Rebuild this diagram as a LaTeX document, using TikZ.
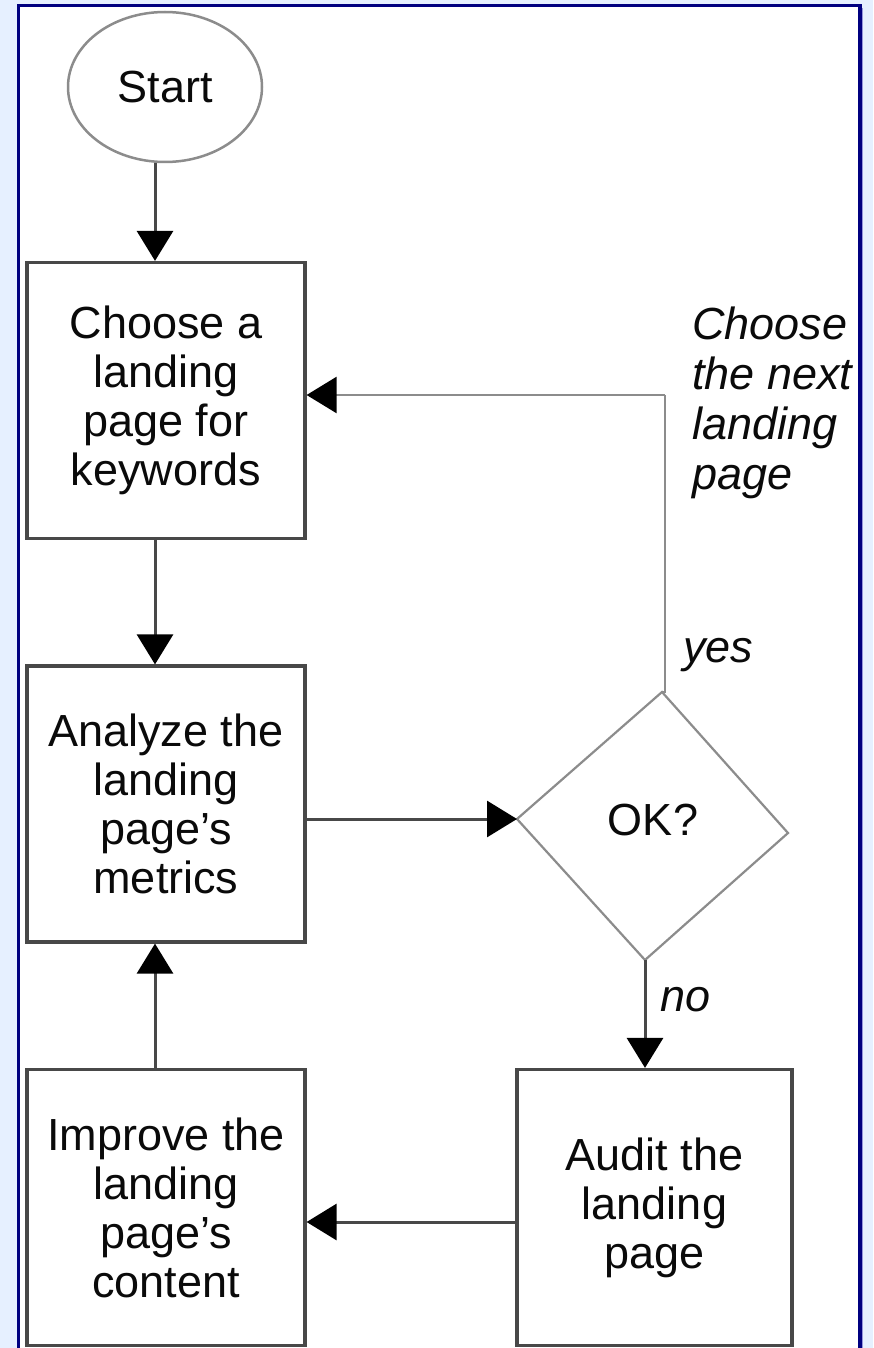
\documentclass[tikz,border=0pt]{standalone}
\usepackage{fontspec}
\setmainfont{Liberation Sans}
\usetikzlibrary{arrows.meta,shapes.geometric,calc}
\definecolor{bgblue}{RGB}{230,240,255}
\definecolor{navy}{RGB}{0,0,128}
\definecolor{boxline}{RGB}{72,72,72}
\definecolor{lightline}{RGB}{140,140,140}
\definecolor{txt}{RGB}{10,10,10}
\tikzset{
  stepbox/.style={draw=boxline, line width=3.2pt, minimum width=278pt, minimum height=276pt, inner sep=0pt, align=center, text=txt, font=\fontsize{45}{49}\selectfont},
  arr/.style={draw=boxline, line width=3pt, -{Triangle[width=36pt,length=30pt,black]}},
  lbl/.style={inner sep=0pt, text=txt, font=\fontsize{45}{50}\selectfont\itshape, align=left}
}
\begin{document}
\begin{tikzpicture}[x=1pt,y=-1pt]
\clip (0,0) rectangle (873,1348);
\useasboundingbox (0,0) rectangle (873,1348);
\fill[bgblue] (0,0) rectangle (873,1348);
\fill[white] (18.5,5.5) rectangle (860,1360);
\draw[navy, line width=3.5pt] (18.5,1360) -- (18.5,5.5) -- (860,5.5) -- (860,1360);
\draw[color={rgb,255:red,150;green,150;blue,220}, line width=1.2pt] (862.5,8) -- (862.5,1360);

% nodes
\node[ellipse, draw=lightline, line width=2.5pt, minimum width=194pt, minimum height=150pt, inner sep=0pt, text=txt, font=\fontsize{45}{49}\selectfont] (start) at (165,87) {Start};
\node[stepbox] (b1) at (166,400.5) {Choose a\\landing\\page for\\keywords};
\node[stepbox] (b2) at (166,804) {Analyze the\\landing\\page's\\metrics};
\node[stepbox] (b3) at (166,1207.5) {Improve the\\landing\\page's\\content};
\node[stepbox, minimum width=275pt] (b4) at (654.5,1207.5) {Audit the\\landing\\page};

% diamond
\coordinate (dT) at (662,692);
\coordinate (dL) at (517,819);
\coordinate (dR) at (788,833);
\coordinate (dB) at (645,960);
\draw[lightline, line width=2.2pt, line join=miter] (dT) -- (dR) -- (dB) -- (dL) -- cycle;
\node[inner sep=0pt, text=txt, font=\fontsize{45}{49}\selectfont] (ok) at (653,820) {OK?};

% helper coordinates
\coordinate (colx) at (155,0);
\coordinate (yrow) at (0,395);
\coordinate (arow) at (0,1222);
\coordinate (yx) at (665,0);

% connectors
\draw[arr] (start.south -| colx) -- (b1.north -| colx);
\draw[arr] (b1.south -| colx) -- (b2.north -| colx);
\draw[arr] (b3.north -| colx) -- (b2.south -| colx);
\draw[arr] (dL -| b2.east) -- (dL);
\draw[arr] (dB) -- (dB |- b4.north);
\draw[arr] (arow -| b4.west) -- (arow -| b3.east);
\draw[draw=lightline, line width=2.5pt] (dT) -- (yx |- dT) -- (yx |- yrow);
\draw[arr, draw=lightline, line width=2.5pt] (yx |- yrow) -- (yrow -| b1.east);

% labels
\node[lbl, anchor=west] (yes) at (683,655) {yes};
\node[lbl, anchor=west] (no) at (660,1000) {no};
\node[lbl, anchor=west] (next) at (692,403) {Choose\\the next\\landing\\page};
\end{tikzpicture}
\end{document}
